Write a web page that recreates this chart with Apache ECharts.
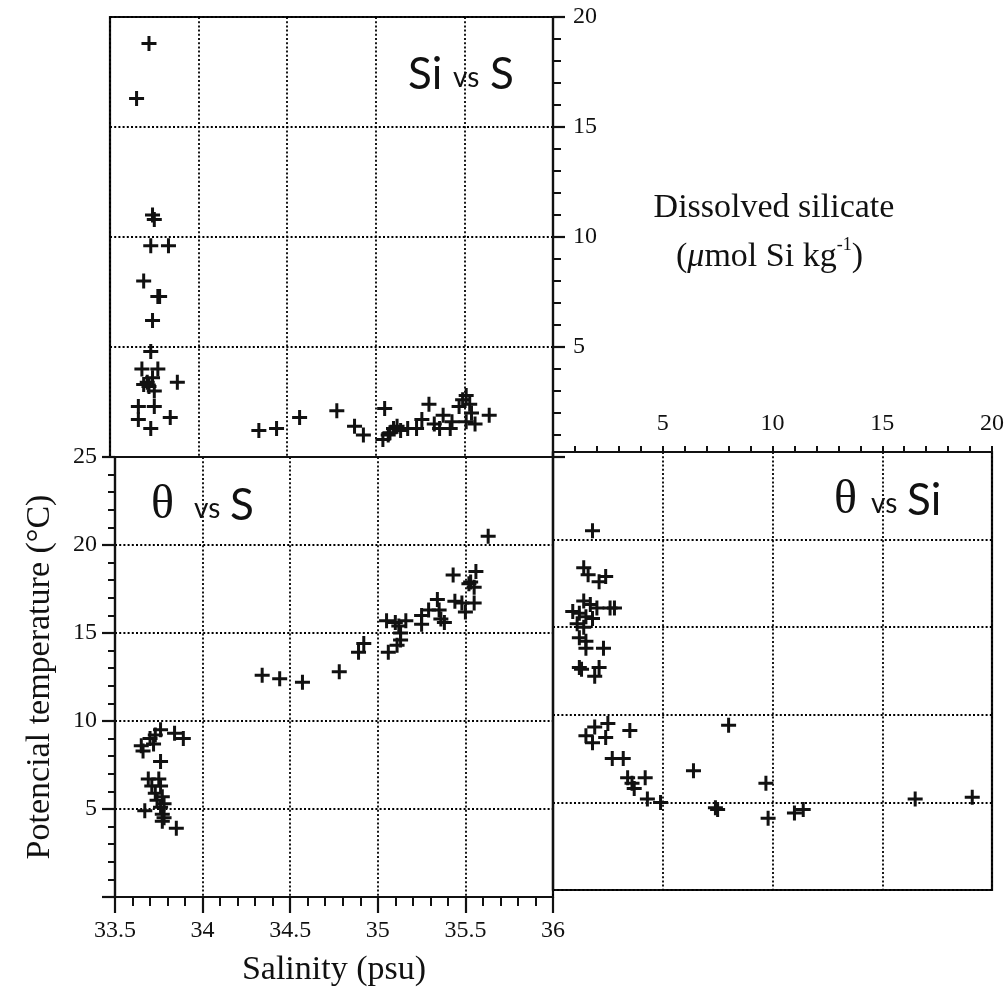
<!DOCTYPE html>
<html>
<head>
<meta charset="utf-8">
<script src="https://cdn.jsdelivr.net/npm/echarts@6/dist/echarts.min.js"></script>
<style>
html,body{margin:0;padding:0;background:#fff;}
#chart{width:1007px;height:995px;}
</style>
</head>
<body>
<div id="chart"></div>
<script>
// ---- Data ----
const siS_salinity = [33.72,33.65,33.74,33.75,33.73,33.83,33.69,33.77,33.78,33.74,33.73,33.68,33.77,33.71,33.69,33.72,33.74,33.88,33.75,33.66,33.75,33.66,33.84,33.73,
  34.34,34.44,34.57,34.78,34.88,34.93,35.05,35.04,35.10,35.12,35.08,35.18,35.23,35.30,35.26,35.33,35.38,35.36,35.42,35.43,35.49,35.51,35.53,35.47,35.54,35.51,35.56,35.64,35.07,35.14];
const siS_silicate = [18.8,16.3,11.0,10.8,9.6,9.6,8.0,7.3,7.3,6.2,4.8,4.0,4.0,3.4,3.3,3.2,3.6,3.4,3.0,2.3,2.3,1.7,1.8,1.3,
  1.2,1.3,1.8,2.1,1.4,1.0,2.2,0.8,1.3,1.4,1.1,1.3,1.3,2.4,1.7,1.5,1.9,1.3,1.3,1.6,2.6,2.8,2.4,2.3,2.0,1.6,1.5,1.9,1.0,1.2];

const thS_salinity = [35.63,35.56,35.43,35.53,35.55,35.52,35.55,35.48,35.44,35.50,35.34,35.29,35.35,35.25,35.38,35.36,35.25,35.16,35.05,35.12,35.10,35.13,35.13,35.11,35.06,34.92,34.89,34.78,34.57,34.44,34.34,
  33.76,33.73,33.70,33.84,33.89,33.72,33.65,33.66,33.76,33.69,33.75,33.71,33.76,33.73,33.77,33.74,33.78,33.67,33.76,33.77,33.78,33.77,33.85];
const thS_theta = [20.5,18.5,18.3,17.9,17.6,17.8,16.7,16.7,16.8,16.2,16.9,16.3,16.3,16.0,15.6,15.8,15.5,15.7,15.7,15.4,15.6,15.0,14.6,14.3,13.9,14.4,13.9,12.8,12.2,12.4,12.6,
  9.5,9.2,9.0,9.3,9.0,8.7,8.6,8.3,7.7,6.7,6.7,6.3,6.3,5.9,5.7,5.5,5.3,4.9,5.1,4.7,4.5,4.3,3.9];

const thSi_silicate = [1.8,1.4,1.6,2.4,2.1,1.4,1.7,2.0,2.6,0.9,1.2,1.5,1.8,1.1,1.4,1.2,1.5,1.5,2.3,1.2,1.3,2.1,1.9,2.8,
  1.9,2.5,3.5,1.5,1.8,2.4,2.7,3.2,3.4,3.6,4.2,3.7,4.3,4.9,6.4,8.0,7.5,7.4,9.7,9.8,11.0,11.4,16.5,19.1];
const thSi_theta = [20.5,18.4,18.0,17.9,17.6,16.5,16.3,16.1,16.1,15.9,15.8,15.6,15.5,15.2,15.0,14.4,14.2,13.8,13.8,12.7,12.6,12.7,12.2,16.1,
  9.3,9.5,9.1,8.8,8.4,8.7,7.5,7.5,6.4,6.1,6.4,5.8,5.2,5.0,6.8,9.4,4.6,4.7,6.1,4.1,4.4,4.6,5.2,5.3];

const salinityTicks = ['33.5','34','34.5','35','35.5','36'];
const silicateTicks = ['','5','10','15','20'];
const thetaTicks = ['','5','10','15','20','25'];

// ---- Chart ----
const zip = (a, b) => a.map((v, i) => [v, b[i]]);
const plus = 'path://M-1.2,-6H1.2V-1.2H6V1.2H1.2V6H-1.2V1.2H-6V-1.2H-1.2Z';
const serif = 'Liberation Serif';
const sans = 'Lato';
const black = '#111';
const dotted = { show: true, lineStyle: { color: '#000', width: 1.8, type: [2, 2.2] } };
const axLine = { show: true, onZero: false, lineStyle: { color: black, width: 2.2 } };

const chart = echarts.init(document.getElementById('chart'), null, { renderer: 'canvas' });

const grids = [
  { left: 110, top: 17, width: 443, height: 440 },   // Si vs S
  { left: 115, top: 457, width: 438, height: 440 },  // theta vs S
  { left: 553, top: 452, width: 439, height: 438 }   // theta vs Si
].map(g => Object.assign(g, { show: true, borderColor: black, borderWidth: 2.2, backgroundColor: 'transparent' }));

function label(text, x, y, font, size) {
  return { type: 'text', x: x, y: y, z: 100,
    style: { text: text, fontFamily: font, fontSize: size, fill: black, textAlign: 'left', textVerticalAlign: 'bottom' } };
}

const option = {
  backgroundColor: '#fff',
  animation: false,
  grid: grids,
  xAxis: [
    { gridIndex: 0, type: 'value', min: 33.5, max: 36, interval: 0.5, position: 'bottom',
      axisLine: axLine, axisTick: { show: false }, axisLabel: { show: false }, splitLine: dotted },
    { gridIndex: 1, type: 'value', min: 33.5, max: 36, interval: 0.5, position: 'bottom',
      axisLine: axLine,
      axisTick: { show: true, length: 16, lineStyle: { color: black, width: 2.2 } },
      minorTick: { show: true, splitNumber: 5, length: 9, lineStyle: { color: black, width: 2 } },
      axisLabel: { show: true, margin: 22, fontFamily: serif, fontSize: 24, color: black,
        formatter: v => salinityTicks[Math.round((v - 33.5) / 0.5)] },
      splitLine: dotted,
      name: 'Salinity (psu)', nameLocation: 'middle', nameGap: 56,
      nameTextStyle: { fontFamily: serif, fontSize: 34, color: black } },
    { gridIndex: 2, type: 'value', min: 0, max: 20, interval: 5, position: 'top',
      axisLine: axLine,
      axisTick: { show: true, length: 6, lineStyle: { color: black, width: 2 } },
      minorTick: { show: true, splitNumber: 5, length: 6, lineStyle: { color: black, width: 2 } },
      axisLabel: { show: true, margin: 16, fontFamily: serif, fontSize: 24, color: black,
        formatter: v => silicateTicks[Math.round(v / 5)] },
      splitLine: dotted }
  ],
  yAxis: [
    { gridIndex: 0, type: 'value', min: 0, max: 20, interval: 5, position: 'right',
      axisLine: axLine,
      axisTick: { show: true, length: 12, lineStyle: { color: black, width: 2.2 } },
      minorTick: { show: true, splitNumber: 5, length: 8, lineStyle: { color: black, width: 2 } },
      axisLabel: { show: true, margin: 20, fontFamily: serif, fontSize: 24, color: black,
        formatter: v => silicateTicks[Math.round(v / 5)] },
      splitLine: dotted },
    { gridIndex: 1, type: 'value', min: 0, max: 25, interval: 5, position: 'left',
      axisLine: axLine,
      axisTick: { show: true, length: 13, lineStyle: { color: black, width: 2.2 } },
      minorTick: { show: true, splitNumber: 5, length: 7, lineStyle: { color: black, width: 2 } },
      axisLabel: { show: true, margin: 18, fontFamily: serif, fontSize: 24, color: black,
        formatter: v => thetaTicks[Math.round(v / 5)] },
      splitLine: dotted,
      name: 'Potencial temperature (\u00B0C)', nameLocation: 'middle', nameGap: 58, nameRotate: 90,
      nameTextStyle: { fontFamily: serif, fontSize: 34, color: black } },
    { gridIndex: 2, type: 'value', min: 0, max: 25, interval: 5, position: 'left',
      axisLine: axLine, axisTick: { show: false }, axisLabel: { show: false },
      splitLine: dotted }
  ],
  series: [
    { type: 'scatter', xAxisIndex: 0, yAxisIndex: 0, data: zip(siS_salinity, siS_silicate),
      symbol: plus, symbolSize: 15, itemStyle: { color: black, opacity: 1 } },
    { type: 'scatter', xAxisIndex: 1, yAxisIndex: 1, data: zip(thS_salinity, thS_theta),
      symbol: plus, symbolSize: 15, itemStyle: { color: black, opacity: 1 } },
    { type: 'scatter', xAxisIndex: 2, yAxisIndex: 2, data: zip(thSi_silicate, thSi_theta),
      symbol: plus, symbolSize: 15, itemStyle: { color: black, opacity: 1 } }
  ],
  graphic: [
    // Si vs S
    label('Si', 408, 97, sans, 44),
    label('vs', 453, 92, sans, 28),
    label('S', 490, 97, sans, 44),
    // theta vs S
    label('\u03B8', 151, 529, serif, 48),
    label('vs', 194, 523, sans, 28),
    label('S', 230, 528, sans, 44),
    // theta vs Si
    label('\u03B8', 834, 524, serif, 48),
    label('vs', 871, 518, sans, 28),
    label('Si', 907, 523, sans, 44),
    { type: 'text', x: 774, y: 208, z: 100,
      style: { text: 'Dissolved silicate', fontFamily: serif, fontSize: 34, fill: black,
        textAlign: 'center', textVerticalAlign: 'middle' } },
    { type: 'text', left: 676, top: 236, z: 100,
      style: { text: '{t|(}{m|\u03BC}{t|mol Si kg}{s|-1}{t|)}', fill: black,
        rich: { t: { fontFamily: serif, fontSize: 34, fill: black, verticalAlign: 'bottom', lineHeight: 38 },
                m: { fontFamily: serif, fontSize: 34, fontStyle: 'italic', fill: black, verticalAlign: 'bottom', lineHeight: 38 },
                s: { fontFamily: serif, fontSize: 18, fill: black, verticalAlign: 'top', lineHeight: 38 } } } }
  ]
};
chart.setOption(option);
</script>
</body>
</html>
